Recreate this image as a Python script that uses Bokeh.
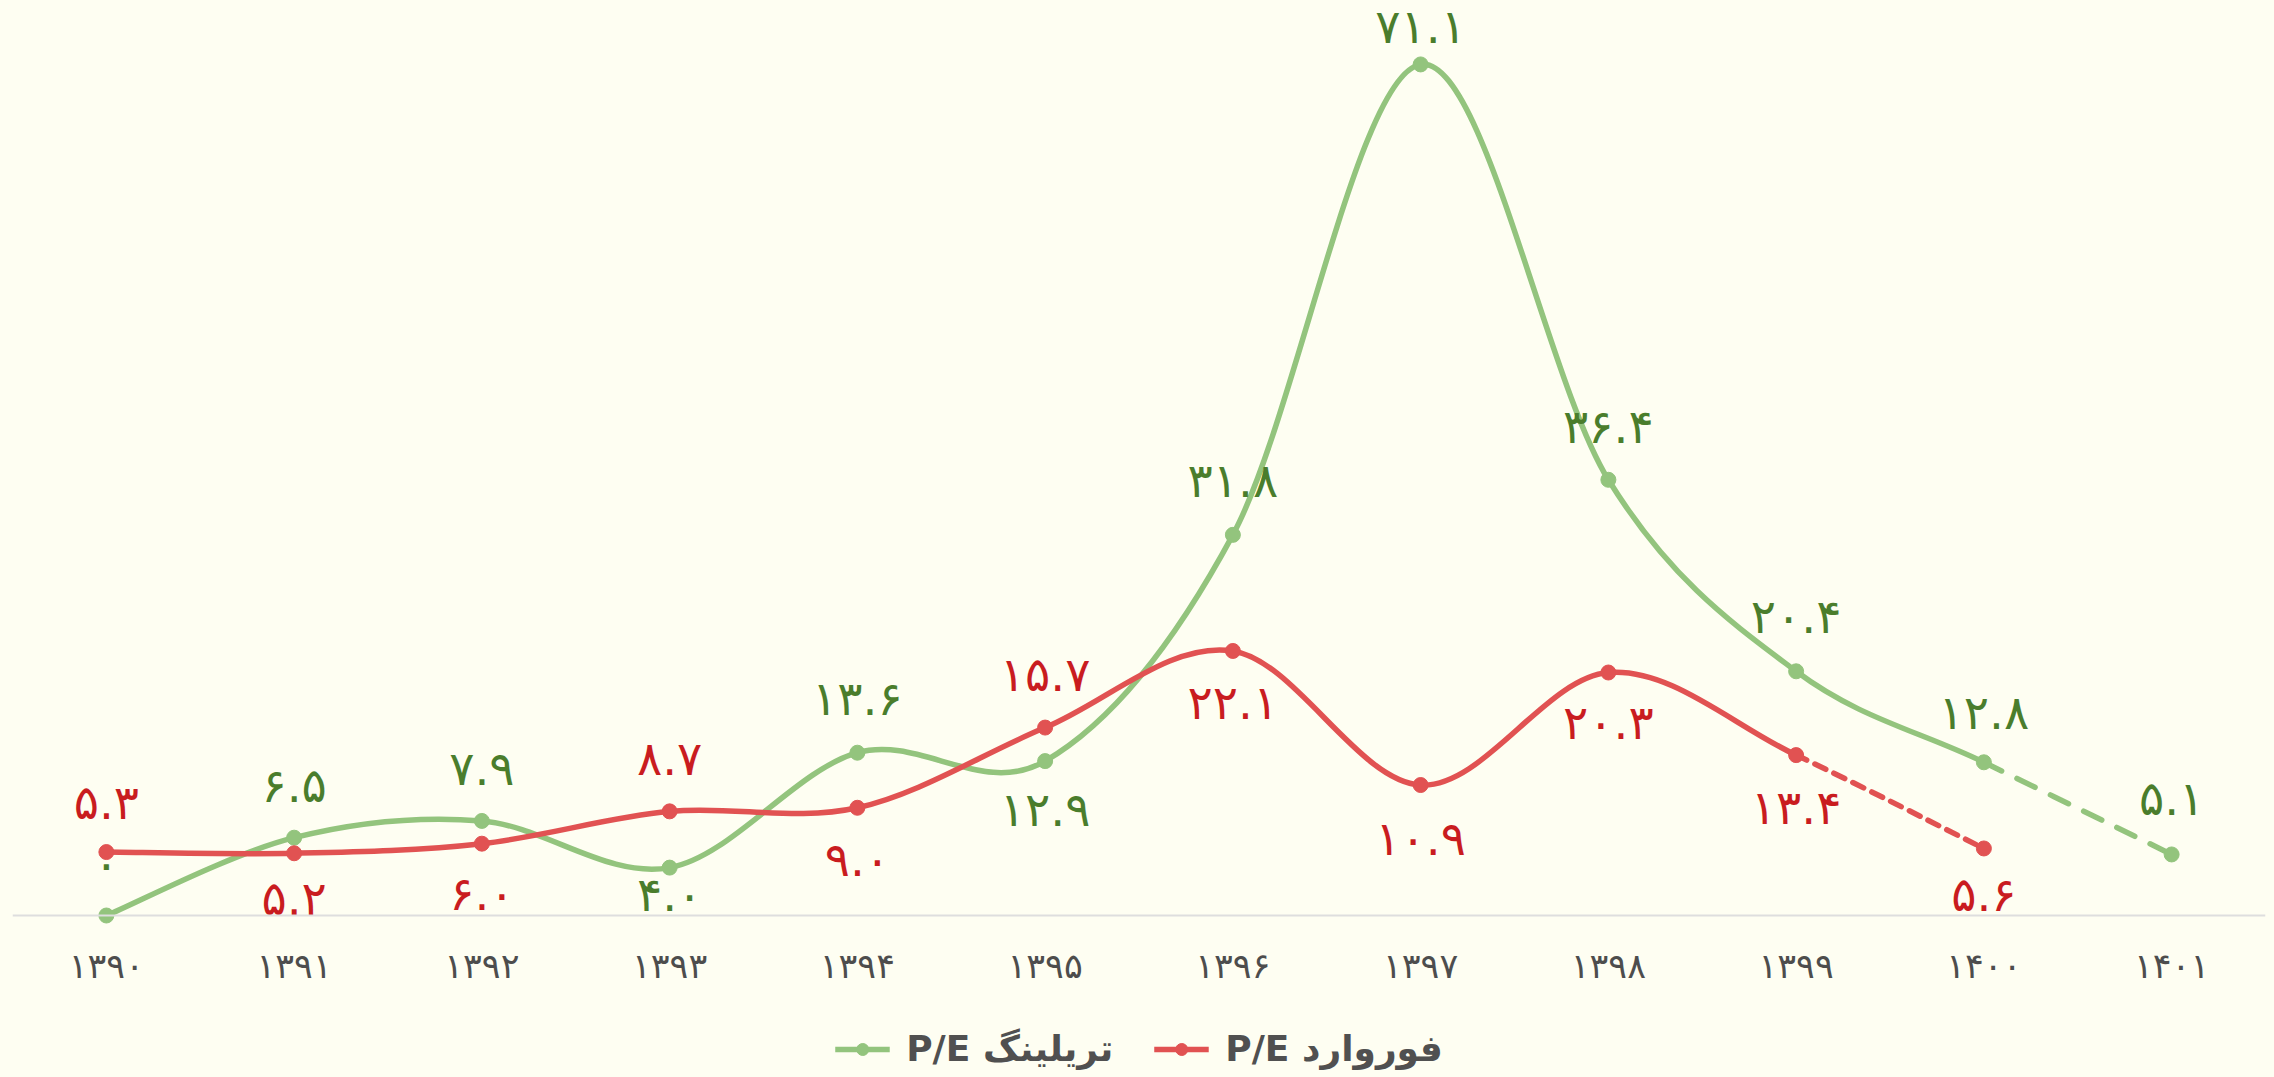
import numpy as np
from bokeh.plotting import figure
from bokeh.models import Range1d, FixedTicker, ColumnDataSource, Legend, LegendItem
from bokeh.core.properties import value
from bokeh.embed import file_html
from bokeh.resources import INLINE

# ---------------- data ----------------
years = ["۱۳۹۰", "۱۳۹۱", "۱۳۹۲", "۱۳۹۳", "۱۳۹۴", "۱۳۹۵",
         "۱۳۹۶", "۱۳۹۷", "۱۳۹۸", "۱۳۹۹", "۱۴۰۰", "۱۴۰۱"]
trailing_pe = [0.0, 6.5, 7.9, 4.0, 13.6, 12.9, 31.8, 71.1, 36.4, 20.4, 12.8, 5.1]
forward_pe = [5.3, 5.2, 6.0, 8.7, 9.0, 15.7, 22.1, 10.9, 20.3, 13.4, 5.6]
trailing_name = "P/E تریلینگ"
forward_name = "P/E فوروارد"

# ---------------- style ----------------
BG = "#fefef2"
GREEN = "#93c47d"
RED = "#e15252"
GREEN_TXT = "#4a7d2c"
RED_TXT = "#c91c1f"
AXIS_TXT = "#4d4d4d"
FONT = "DejaVu Sans"
# label vertical offsets in screen px (negative = above point)
trailing_label_dy = [-52, -52, -52, 27, -54, 48, -54, -38, -53, -55, -50, -56]
forward_label_dy = [-50, 45, 50, -53, 52, -53, 52, 53, 50, 52, 46]

PERSIAN = str.maketrans("0123456789", "۰۱۲۳۴۵۶۷۸۹")


def fmt(v):
    if v == 0:
        return "0".translate(PERSIAN)
    return ("%.1f" % v).translate(PERSIAN)


def bezier_segments(ys):
    xs = np.arange(len(ys), dtype=float)
    P = np.column_stack([xs, np.asarray(ys, dtype=float)])
    n = len(P)
    out = dict(x0=[], y0=[], x1=[], y1=[], cx0=[], cy0=[], cx1=[], cy1=[])
    for i in range(n - 1):
        p0 = P[i - 1] if i > 0 else P[i]
        p1, p2 = P[i], P[i + 1]
        p3 = P[i + 2] if i + 2 < n else P[i + 1]
        c0 = p1 + (p2 - p0) / 6.0
        c1 = p2 - (p3 - p1) / 6.0
        for k, v in (("x0", p1[0]), ("y0", p1[1]), ("x1", p2[0]), ("y1", p2[1]),
                     ("cx0", c0[0]), ("cy0", c0[1]), ("cx1", c1[0]), ("cy1", c1[1])):
            out[k].append(v)
    return out


def split(d):
    solid = {k: v[:-1] for k, v in d.items()}
    dashed = {k: v[-1:] for k, v in d.items()}
    return ColumnDataSource(solid), ColumnDataSource(dashed)


# frame covers the whole window; value 0 sits 162px above the bottom edge
PX_PER_UNIT = 11.97
p = figure(frame_width=2253, frame_height=1077,
           x_range=Range1d(-0.5, 11.5),
           y_range=Range1d(-162 / PX_PER_UNIT, 915 / PX_PER_UNIT),
           output_backend="svg", toolbar_location=None,
           min_border_left=12, min_border_right=9, min_border_top=0, min_border_bottom=0)
p.background_fill_color = BG
p.border_fill_color = BG
p.outline_line_color = None
p.grid.visible = False
p.yaxis.visible = False

xa = p.xaxis[0]
xa.fixed_location = 0
xa.ticker = FixedTicker(ticks=list(range(len(years))))
xa.major_label_overrides = {i: y for i, y in enumerate(years)}
xa.axis_line_color = "#dedede"
xa.axis_line_width = 2
xa.major_tick_line_color = None
xa.major_tick_out = 0
xa.major_tick_in = 0
xa.minor_tick_line_color = None
xa.major_label_text_font = FONT
xa.major_label_text_font_size = "35px"
xa.major_label_text_color = AXIS_TXT
xa.major_label_standoff = 30

bz = dict(x0="x0", y0="y0", x1="x1", y1="y1", cx0="cx0", cy0="cy0", cx1="cx1", cy1="cy1")
LW = 5.5

# trailing series
g_solid, g_dash = split(bezier_segments(trailing_pe))
p.bezier(source=g_solid, line_color=GREEN, line_width=LW, **bz)
p.bezier(source=g_dash, line_color=GREEN, line_width=LW, line_dash="20 17", line_cap="round", **bz)
g_pts = ColumnDataSource(dict(x=list(range(len(trailing_pe))), y=trailing_pe,
                              t=[fmt(v) for v in trailing_pe], dy=trailing_label_dy))
sg = p.scatter("x", "y", source=g_pts, size=15, color=GREEN)

# forward series
r_solid, r_dash = split(bezier_segments(forward_pe))
p.bezier(source=r_solid, line_color=RED, line_width=LW, **bz)
p.bezier(source=r_dash, line_color=RED, line_width=LW, line_dash="12 9", line_cap="round", **bz)
r_pts = ColumnDataSource(dict(x=list(range(len(forward_pe))), y=forward_pe,
                              t=[fmt(v) for v in forward_pe], dy=forward_label_dy))
sr = p.scatter("x", "y", source=r_pts, size=15, color=RED)

# labels
for src, col in ((g_pts, GREEN_TXT), (r_pts, RED_TXT)):
    p.text("x", "y", text="t", y_offset="dy", source=src, text_align="center",
           text_baseline="middle", text_font=value(FONT), text_font_size="47px",
           text_color=col)

# legend (line proxies carry no drawable data, only their style)
nan2 = [float("nan"), float("nan")]
lg = p.line(x=nan2, y=nan2, line_color=GREEN, line_width=LW)
lr = p.line(x=nan2, y=nan2, line_color=RED, line_width=LW)
legend = Legend(items=[LegendItem(label=trailing_name, renderers=[lg, sg]),
                       LegendItem(label=forward_name, renderers=[lr, sr])],
                orientation="horizontal", location="bottom_center",
                glyph_width=55, glyph_height=30, label_standoff=17, spacing=40,
                label_text_font=FONT, label_text_font_size="36px",
                label_text_font_style="bold", label_text_color="#505050",
                label_height=30,
                background_fill_alpha=0, border_line_alpha=0, padding=0, margin=8)
p.add_layout(legend, "center")

html = file_html(p, INLINE)
html = html.replace("</head>", "<style>body{background:%s;}</style></head>" % BG, 1)
open("out.html", "w").write(html)
